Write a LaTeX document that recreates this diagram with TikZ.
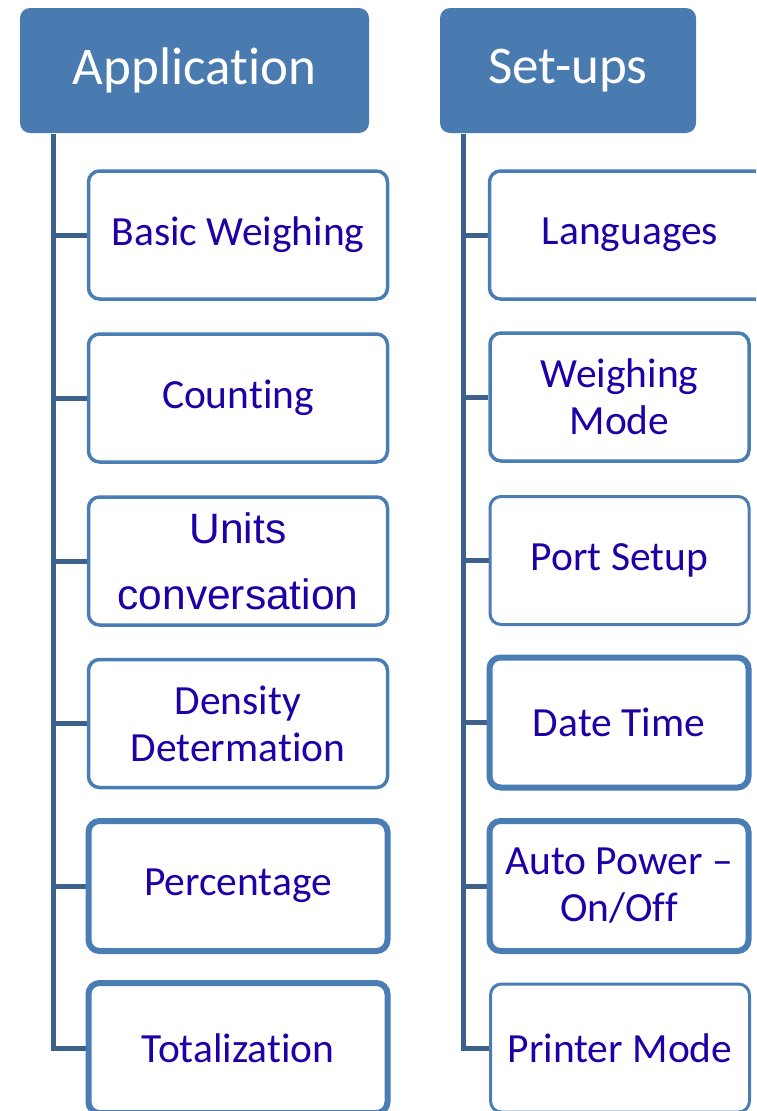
\documentclass[tikz,border=0pt]{standalone}
\usepackage{fontspec}
\setmainfont{Carlito}[Ligatures=NoCommon]
\newfontfamily\arialfont{Liberation Sans}[Ligatures=NoCommon]
\usetikzlibrary{backgrounds}
\definecolor{hdr}{HTML}{4A7BB0}
\definecolor{bord}{HTML}{4A7DB3}
\definecolor{trk}{HTML}{3C628C}
\definecolor{txt}{HTML}{1E00A6}
\tikzset{
  hdrbox/.style={fill=hdr, draw=none, rounded corners=10pt, text=white,
    font=\fontsize{53}{60}\selectfont, inner sep=0pt, minimum height=125pt},
  itembox/.style={draw=bord, fill=white, rounded corners=11pt, line width=3.5pt,
    text=txt, font=\fontsize{41.5}{47}\selectfont, align=center, inner sep=0pt,
    minimum height=128pt},
  heavybox/.style={itembox, line width=6pt, minimum height=130pt},
  leftcol/.style={minimum width=299pt},
  rightcol/.style={minimum width=259pt},
  trunk/.style={draw=trk, line width=5pt},
}
\begin{document}
\begin{tikzpicture}[x=1pt,y=-1pt]
\useasboundingbox (0,0) rectangle (756,1111);
\clip (0,0) rectangle (756,1111);

% headers
\node[hdrbox, minimum width=349pt] (app) at (194.5,70.5) {Application};
\node[hdrbox, minimum width=256pt] (set) at (568,70.5) {Set-ups};

% left column
\node[itembox, leftcol] (bw) at (238,235) {Basic Weighing};
\node[itembox, leftcol] (cnt) at (238,398) {Counting};
\node[itembox, leftcol, font=\arialfont\fontsize{42.5}{66}\selectfont] (uc) at (238,561) {Units\\conversation};
\node[itembox, leftcol] (dd) at (238,723.5) {Density\\Determation};
\node[heavybox, leftcol] (pct) at (238,886) {Percentage};
\node[heavybox, leftcol] (tot) at (238,1048) {Totalization};

% right column
\node[itembox, minimum width=281pt] (lang) at (630,235) {Languages};
\node[itembox, rightcol] (wm) at (619.5,397) {Weighing\\Mode};
\node[itembox, rightcol, line width=3pt] (ps) at (619.5,560.5) {Port Setup};
\node[heavybox, rightcol] (dt) at (619,722.5) {Date Time};
\node[heavybox, rightcol] (ap) at (619,886) {Auto Power --\\On/Off};
\node[itembox, rightcol, line width=3pt] (pm) at (620,1048) {Printer Mode};

% connectors
\coordinate (lt) at (53,134);
\coordinate (rt) at (463,134);
\begin{pgfonlayer}{background}
\draw[trunk] (lt) |- (tot.west);
\foreach \n in {bw,cnt,uc,dd,pct} \draw[trunk] (lt |- \n.west) -- (\n.west);
\draw[trunk] (rt) |- (pm.west);
\foreach \n in {lang,wm,ps,dt,ap} \draw[trunk] (rt |- \n.west) -- (\n.west);
\end{pgfonlayer}
\end{tikzpicture}
\end{document}
